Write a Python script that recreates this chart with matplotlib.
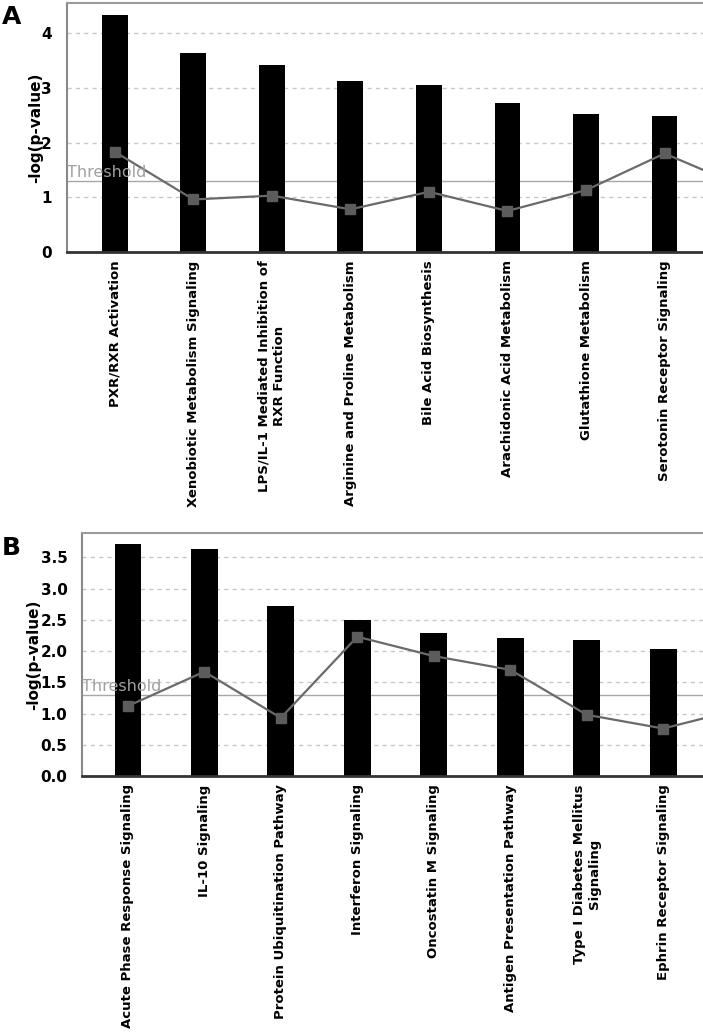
import matplotlib
matplotlib.use("Agg")
import matplotlib.pyplot as plt
import numpy as np

# ---------------- data ----------------
cats_a = ["PXR/RXR Activation", "Xenobiotic Metabolism Signaling",
          "LPS/IL-1 Mediated Inhibition of\nRXR Function",
          "Arginine and Proline Metabolism", "Bile Acid Biosynthesis",
          "Arachidonic Acid Metabolism", "Glutathione Metabolism",
          "Serotonin Receptor Signaling"]
logp_a = [4.33, 3.64, 3.41, 3.12, 3.06, 2.72, 2.53, 2.48]
# ratio series (last value belongs to a partly visible next pathway)
ratio_a = [1.83, 0.96, 1.03, 0.78, 1.10, 0.75, 1.13, 1.80, 1.19]

cats_b = ["Acute Phase Response Signaling", "IL-10 Signaling",
          "Protein Ubiquitination Pathway", "Interferon Signaling",
          "Oncostatin M Signaling", "Antigen Presentation Pathway",
          "Type I Diabetes Mellitus\nSignaling", "Ephrin Receptor Signaling"]
logp_b = [3.71, 3.64, 2.72, 2.49, 2.29, 2.21, 2.17, 2.04]
ratio_b = [1.12, 1.67, 0.93, 2.23, 1.92, 1.70, 0.98, 0.76, 1.07]

threshold = 1.3
yticks_a = [0, 1, 2, 3, 4]
yticks_b = [0.0, 0.5, 1.0, 1.5, 2.0, 2.5, 3.0, 3.5]

# ---------------- figure ----------------
W, H = 703, 1032
fig = plt.figure(figsize=(W / 100, H / 100), dpi=100)
plt.rcParams['font.family'] = ['DejaVu Sans']


def px_axes(left, top, right, bottom):
    return fig.add_axes([left / W, 1 - bottom / H, (right - left) / W, (bottom - top) / H])


def draw_panel(ax, cats, vals, ratio, yticks, ylim, xlim, width, fmt, letter, letter_xy,
               ypad, label_x):
    x = np.arange(len(cats))
    ax.set_xlim(*xlim)
    ax.set_ylim(*ylim)
    for t in yticks[1:]:
        ax.axhline(t, color='#c8c8c8', lw=1, ls=(0, (3, 3)), zorder=0)
    ax.axhline(threshold, color='#a8a8a8', lw=1, zorder=1)
    ax.bar(x, vals, width=width, color='black', zorder=2)
    xr = np.arange(len(ratio))
    ax.plot(xr, ratio, color='#6a6a6a', lw=1.6, zorder=3)
    ax.plot(xr, ratio, ls='none', marker='s', ms=6.5, mfc='#5c5c5c', mec='#5c5c5c', zorder=4)
    ax.text(xlim[0] + 0.005, threshold + 0.01, "Threshold", color='#a0a0a0', fontsize=11.5,
            ha='left', va='bottom', zorder=5)
    ax.set_xticks(x)
    ax.set_xticklabels(cats, rotation=90, fontsize=9.5, fontweight='bold',
                       ha='center', va='top', multialignment='center')
    ax.set_yticks(yticks)
    ax.set_yticklabels([fmt.format(t) for t in yticks], fontsize=11, fontweight='bold')
    ax.tick_params(axis='both', length=0)
    ax.tick_params(axis='y', pad=ypad)
    ax.tick_params(axis='x', pad=6)
    ax.set_ylabel("-log(p-value)", fontsize=11, fontweight='bold')
    ax.yaxis.set_label_coords(label_x, 0.5)
    ax.spines['right'].set_visible(False)
    ax.spines['left'].set_color('#8a8a8a')
    ax.spines['left'].set_linewidth(1.5)
    ax.spines['top'].set_color('#9a9a9a')
    ax.spines['top'].set_linewidth(1.5)
    ax.spines['bottom'].set_color('#333333')
    ax.spines['bottom'].set_linewidth(2)
    fig.text(letter_xy[0] / W, 1 - letter_xy[1] / H, letter, fontsize=18,
             fontweight='bold', ha='left', va='top')


ax_a = px_axes(67, 3, 703, 252)
draw_panel(ax_a, cats_a, logp_a, ratio_a, yticks_a, (0, 4.55), (-0.61, 7.49), 0.33,
           "{:.0f}", "A", (2, 5), 11, (43 - 67) / 636)

ax_b = px_axes(82, 533, 703, 776)
draw_panel(ax_b, cats_b, logp_b, ratio_b, yticks_b, (0, 3.89), (-0.60, 7.52), 0.35,
           "{:.1f}", "B", (2, 536), 10.5, (41 - 82) / 621)

fig.savefig("out.png", dpi=100)
